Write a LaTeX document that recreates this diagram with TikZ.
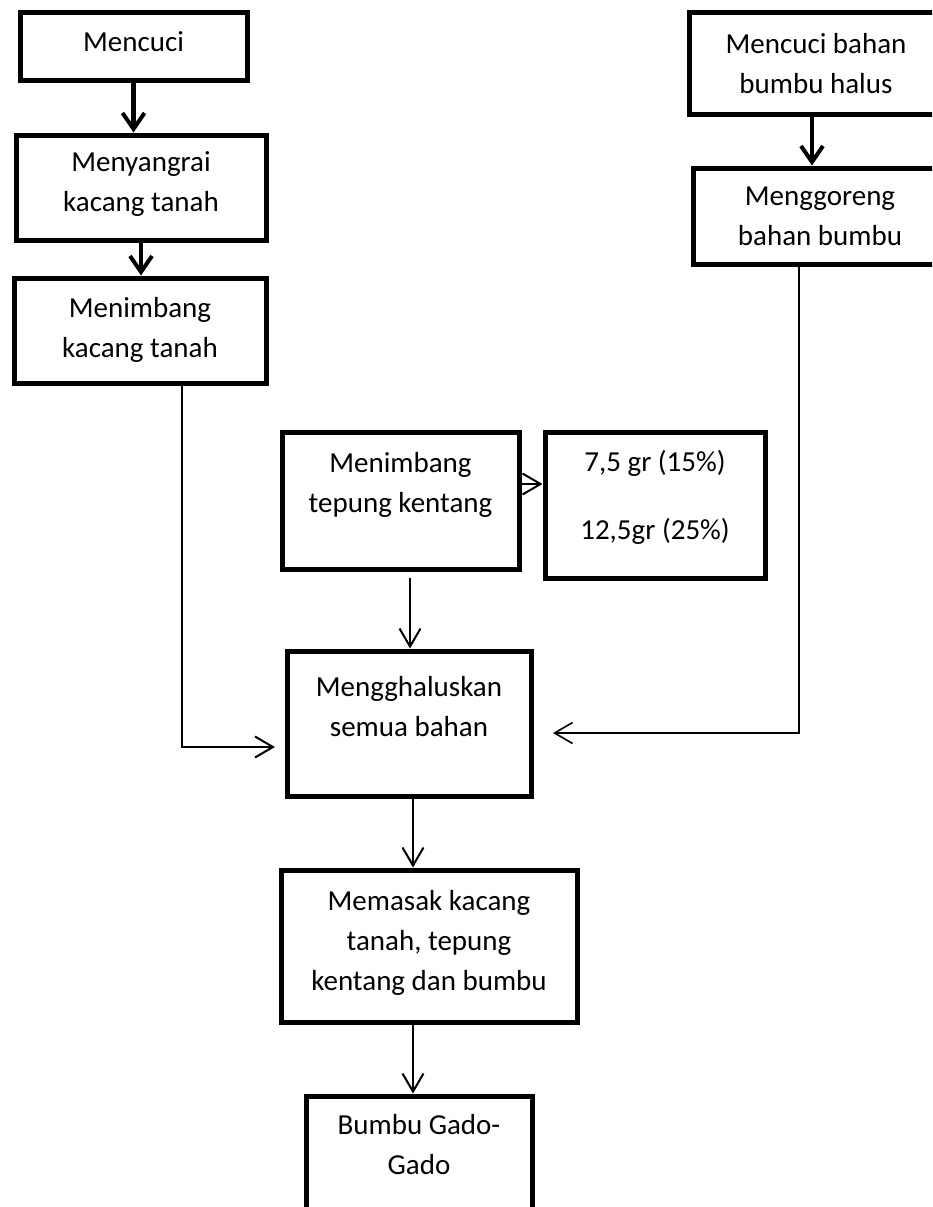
\documentclass[tikz,border=0pt]{standalone}
\usepackage{fontspec}
\setmainfont{Carlito}
\usetikzlibrary{positioning,arrows.meta}

\tikzset{
	box/.style = {draw, line width = 5pt, align = center, inner sep = 0pt, font = \fontsize{29}{40}\selectfont},
	flow/.style = {line width = 4.5pt, -{Straight Barb[length = 16pt, width = 22pt, line width = 4pt]}},
	link/.style = {line width = 2pt, -{Straight Barb[length = 18pt, width = 21pt]}},
}

\begin{document}
\begin{tikzpicture}[x = 1pt, y = -1pt]
	\useasboundingbox (0,0) rectangle (932,1207);
	\clip (0,0) rectangle (932,1207);

	\node[box, minimum width = 227pt, minimum height = 67pt, text depth = 9pt] (cuci) at (133.5,46.5) {Mencuci};
	\node[box, minimum width = 250pt, minimum height = 105pt, text depth = 11pt, below = 50pt of cuci, xshift = 7.5pt] (sangrai) {Menyangrai\\kacang tanah};
	\node[box, minimum width = 252pt, minimum height = 105pt, text depth = 7pt, below = 33pt of sangrai, xshift = -1pt] (kacang) {Menimbang\\kacang tanah};

	\node[box, minimum width = 254pt, minimum height = 101pt] (bumbu) at (816,63.5) {Mencuci bahan\\bumbu halus};
	\node[box, minimum width = 254pt, minimum height = 96pt, below = 49pt of bumbu, xshift = 4pt] (goreng) {Menggoreng\\bahan bumbu};

	\node[box, minimum width = 237pt, minimum height = 137pt, text depth = 37pt] (tepung) at (400.5,500.5) {Menimbang\\tepung kentang};
	\node[box, minimum width = 220pt, minimum height = 146pt, text depth = 20pt, right = 21pt of tepung, yshift = -4.5pt] (gram) {7,5 gr (15\%)\\[28pt]12,5gr (25\%)};
	\node[box, minimum width = 244pt, minimum height = 145pt, text depth = 35pt, below = 77pt of tepung, xshift = 8.5pt] (halus) {Mengghaluskan\\semua bahan};
	\node[box, minimum width = 296pt, minimum height = 152pt, text depth = 12pt, below = 69pt of halus, xshift = 20pt] (masak) {Memasak kacang\\tanah, tepung\\kentang dan bumbu};
	\node[box, minimum width = 226pt, minimum height = 150pt, text depth = 54pt, below = 69pt of masak, xshift = -10pt] (gado) {Bumbu Gado-\\Gado};

	\coordinate (kbend) at (182,747);
	\coordinate (gbend) at (799,733);
	\coordinate (tg) at (0,484);
	\coordinate (bx) at (812,0);
	\coordinate (hx) at (410,0);
	\coordinate (mx) at (413,0);

	\draw[flow] (cuci.south) -- (cuci.south |- sangrai.north);
	\draw[flow] (sangrai.south) -- (sangrai.south |- kacang.north);
	\draw[flow] (bumbu.south -| bx) -- (goreng.north -| bx);

	\draw[link] (tepung.east |- tg) -- (gram.west |- tg);
	\draw[link] (tepung.south -| hx) ++(0,6) -- (halus.north -| hx);
	\draw[link, shorten > = 9.5pt] (kacang.south -| kbend) -- (kbend) -- (kbend -| halus.west);
	\draw[link, line width = 1.6pt, shorten > = 19.5pt] (goreng.south -| gbend) -- (gbend) -- (gbend -| halus.east);
	\draw[link] (halus.south -| mx) -- (masak.north -| mx);
	\draw[link] (masak.south -| mx) -- (gado.north -| mx);
\end{tikzpicture}
\end{document}
